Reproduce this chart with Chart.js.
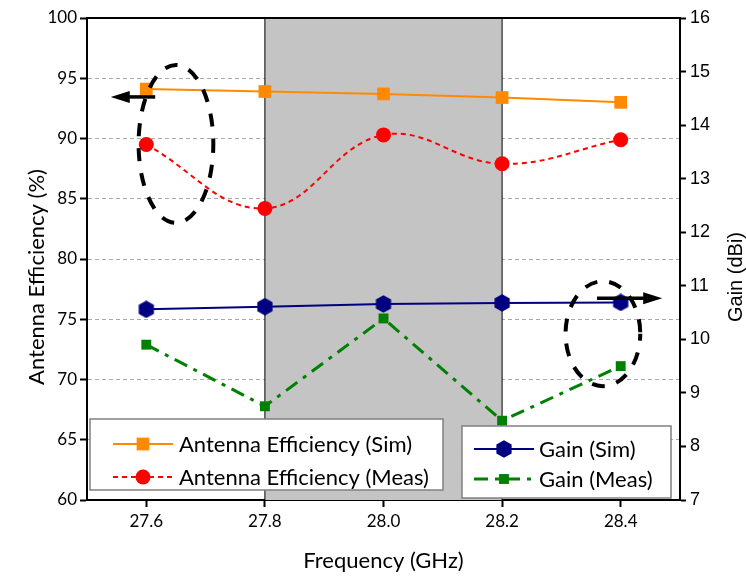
<!DOCTYPE html>
<html>
<head>
<meta charset="utf-8">
<script src="https://cdn.jsdelivr.net/npm/chart.js@4.4.1/dist/chart.umd.min.js"></script>
<style>
  html, body { margin: 0; padding: 0; background: #fff; }
  canvas { display: block; }
</style>
</head>
<body>
<canvas id="myChart" width="746" height="576"></canvas>
<script>
// data
const freq = [27.6, 27.8, 28.0, 28.2, 28.4];
const effSim = [94.1, 93.9, 93.7, 93.4, 93.0];
const effMeas = [89.5, 84.2, 90.3, 87.9, 89.9];
const gainSim = [10.56, 10.61, 10.66, 10.68, 10.69];
const gainMeas = [9.9, 8.75, 10.39, 8.48, 9.5];

const freqTicks = [27.6, 27.8, 28.0, 28.2, 28.4];
const effTicks = [60, 65, 70, 75, 80, 85, 90, 95, 100];
const gainTicks = [7, 8, 9, 10, 11, 12, 13, 14, 15, 16];
const band = [27.8, 28.2];

const calibriLike = 'Lato, "Open Sans", sans-serif';
const arialLike = '"Liberation Sans", Arial, sans-serif';

const pts = ys => freq.map((f, i) => ({ x: f, y: ys[i] }));

// hexagon marker for gain (sim)
const hex = document.createElement('canvas');
hex.width = 18; hex.height = 18;
(function () {
  const c = hex.getContext('2d');
  c.fillStyle = '#000080';
  c.beginPath();
  for (let k = 0; k < 6; k++) {
    const a = -Math.PI / 2 + k * Math.PI / 3;
    const px = 9 + 8.8 * Math.cos(a), py = 9 + 8.8 * Math.sin(a);
    k ? c.lineTo(px, py) : c.moveTo(px, py);
  }
  c.closePath();
  c.fill();
})();

function arrow(ctx, x0, y0, x1, y1) {
  const ang = Math.atan2(y1 - y0, x1 - x0), len = 19, hw = 6;
  ctx.beginPath();
  ctx.moveTo(x0, y0);
  ctx.lineTo(x1 - Math.cos(ang) * (len - 2), y1 - Math.sin(ang) * (len - 2));
  ctx.stroke();
  ctx.beginPath();
  ctx.moveTo(x1, y1);
  ctx.lineTo(x1 - Math.cos(ang) * len - Math.sin(ang) * hw, y1 - Math.sin(ang) * len + Math.cos(ang) * hw);
  ctx.lineTo(x1 - Math.cos(ang) * len + Math.sin(ang) * hw, y1 - Math.sin(ang) * len - Math.cos(ang) * hw);
  ctx.closePath();
  ctx.fill();
}

function legendItem(ctx, ds, x0, x1, y, tx) {
  ctx.save();
  ctx.strokeStyle = ds.borderColor;
  ctx.lineWidth = ds.borderWidth;
  ctx.setLineDash(ds.borderDash || []);
  ctx.beginPath(); ctx.moveTo(x0, y); ctx.lineTo(x1, y); ctx.stroke();
  ctx.setLineDash([]);
  ctx.fillStyle = ds.backgroundColor;
  Chart.helpers.drawPoint(ctx, { pointStyle: ds.pointStyle, radius: ds.pointRadius, borderWidth: 0, rotation: 0 }, (x0 + x1) / 2, y);
  ctx.fillStyle = '#000';
  ctx.font = '22px ' + calibriLike;
  ctx.textBaseline = 'middle';
  ctx.textAlign = 'left';
  ctx.fillText(ds.label, tx, y + 1);
  ctx.restore();
}

const decor = {
  id: 'decor',
  beforeDatasetsDraw(chart) {
    const { ctx, chartArea: a, scales: { x } } = chart;
    const x0 = x.getPixelForValue(band[0]), x1 = x.getPixelForValue(band[1]);
    ctx.save();
    ctx.fillStyle = '#c4c4c4';
    ctx.fillRect(x0, a.top, x1 - x0, a.bottom - a.top);
    ctx.strokeStyle = '#000';
    ctx.lineWidth = 1;
    ctx.beginPath();
    ctx.moveTo(x0, a.top); ctx.lineTo(x0, a.bottom);
    ctx.moveTo(x1, a.top); ctx.lineTo(x1, a.bottom);
    ctx.stroke();
    ctx.restore();
  },
  afterDatasetsDraw(chart) {
    const { ctx, chartArea: a, scales: { x, y } } = chart;
    ctx.save();
    // dashed ellipses
    ctx.strokeStyle = '#000';
    ctx.fillStyle = '#000';
    ctx.lineWidth = 4;
    ctx.setLineDash([13, 12]);
    const ell = (cx, cy, dx, dy, off) => {
      const px = x.getPixelForValue(cx), py = y.getPixelForValue(cy);
      const rx = x.getPixelForValue(cx + dx) - px, ry = py - y.getPixelForValue(cy + dy);
      ctx.lineDashOffset = off;
      ctx.beginPath(); ctx.ellipse(px, py, rx, ry, 0, 0, Math.PI * 2); ctx.stroke();
    };
    ell(27.65, 89.55, 0.063, 6.55, 4);
    ell(28.37, 73.8, 0.063, 4.35, 6);
    ctx.setLineDash([]);
    ctx.lineWidth = 3.5;
    arrow(ctx, x.getPixelForValue(27.615), y.getPixelForValue(93.45), x.getPixelForValue(27.54), y.getPixelForValue(93.45));
    arrow(ctx, x.getPixelForValue(28.36), y.getPixelForValue(76.75), x.getPixelForValue(28.47), y.getPixelForValue(76.75));
    ctx.restore();

    // legend boxes
    const ds = chart.data.datasets;
    ctx.save();
    ctx.fillStyle = '#fff';
    ctx.strokeStyle = '#808080';
    ctx.lineWidth = 1.5;
    ctx.fillRect(a.left + 3, a.bottom - 81, 353, 71);
    ctx.strokeRect(a.left + 3, a.bottom - 81, 353, 71);
    ctx.fillRect(a.left + 375, a.bottom - 74, 209, 72);
    ctx.strokeRect(a.left + 375, a.bottom - 74, 209, 72);
    ctx.restore();
    legendItem(ctx, ds[0], a.left + 26, a.left + 86, a.bottom - 56, a.left + 92);
    legendItem(ctx, ds[1], a.left + 26, a.left + 86, a.bottom - 23, a.left + 92);
    legendItem(ctx, ds[2], a.left + 387, a.left + 447, a.bottom - 51, a.left + 452);
    legendItem(ctx, ds[3], a.left + 387, a.left + 447, a.bottom - 21, a.left + 452);
  },
  afterDraw(chart) {
    const { ctx, chartArea: a } = chart;
    ctx.save();
    ctx.strokeStyle = '#000';
    ctx.lineWidth = 2;
    ctx.beginPath(); ctx.moveTo(a.left - 1, a.top); ctx.lineTo(a.right + 1, a.top); ctx.stroke();

    ctx.fillStyle = '#000';
    ctx.textAlign = 'center';
    ctx.textBaseline = 'alphabetic';
    const midY = (a.top + a.bottom) / 2 + 18;
    ctx.font = '22px ' + calibriLike;
    ctx.fillText('Frequency (GHz)', (a.left + a.right) / 2, 568);

    ctx.save();
    ctx.translate(44, midY);
    ctx.rotate(-Math.PI / 2);
    ctx.fillText('Antenna Efficiency (%)', 0, 0);
    ctx.restore();

    ctx.save();
    ctx.font = '20px ' + arialLike;
    ctx.translate(742, midY);
    ctx.rotate(-Math.PI / 2);
    ctx.fillText('Gain (dBi)', 0, 0);
    ctx.restore();
    ctx.restore();
  }
};

const ctx = document.getElementById('myChart').getContext('2d');
const chart = new Chart(ctx, {
  type: 'line',
  data: {
    datasets: [
      {
        label: 'Antenna Efficiency (Sim)',
        data: pts(effSim),
        yAxisID: 'y',
        borderColor: '#ff8a00',
        backgroundColor: '#ff8a00',
        borderWidth: 2,
        pointStyle: 'rect',
        pointRadius: 9,
        pointBorderWidth: 0,
        tension: 0
      },
      {
        label: 'Antenna Efficiency (Meas)',
        data: pts(effMeas),
        yAxisID: 'y',
        borderColor: '#ff0000',
        backgroundColor: '#ff0000',
        borderWidth: 2,
        borderDash: [5, 4],
        pointStyle: 'circle',
        pointRadius: 7.5,
        pointBorderWidth: 0,
        tension: 0.4
      },
      {
        label: 'Gain (Sim)',
        data: pts(gainSim),
        yAxisID: 'y2',
        borderColor: '#000080',
        backgroundColor: '#000080',
        borderWidth: 2,
        pointStyle: hex,
        pointRadius: 9,
        pointBorderWidth: 0,
        tension: 0
      },
      {
        label: 'Gain (Meas)',
        data: pts(gainMeas),
        yAxisID: 'y2',
        borderColor: '#008000',
        backgroundColor: '#008000',
        borderWidth: 3,
        borderDash: [14, 7, 4, 7],
        pointStyle: 'rect',
        pointRadius: 7,
        pointBorderWidth: 0,
        tension: 0
      }
    ]
  },
  options: {
    responsive: false,
    animation: false,
    devicePixelRatio: 1,
    layout: { padding: { top: 18, left: 0, right: 0, bottom: 0 } },
    plugins: { legend: { display: false }, tooltip: { enabled: false } },
    scales: {
      x: {
        type: 'linear',
        min: 27.5,
        max: 28.5,
        afterBuildTicks: s => { s.ticks = freqTicks.map(v => ({ value: v })); },
        afterFit: s => { s.height = 76; },
        ticks: {
          callback: v => v.toFixed(1),
          color: '#000',
          font: { family: calibriLike, size: 17 },
          padding: 4,
          maxRotation: 0
        },
        grid: { drawOnChartArea: false, tickLength: 7, tickColor: '#000', tickWidth: 2 },
        border: { color: '#000', width: 2 }
      },
      y: {
        position: 'left',
        min: 60,
        max: 100,
        afterBuildTicks: s => { s.ticks = effTicks.map(v => ({ value: v })); },
        afterFit: s => { s.width = 87; },
        ticks: {
          color: '#000',
          font: { family: calibriLike, size: 17 },
          padding: 3
        },
        grid: { color: '#aaaaaa', lineWidth: 1, tickLength: 7, tickColor: '#000', tickWidth: 2 },
        border: { color: '#000', width: 2, dash: [4, 3] }
      },
      y2: {
        position: 'right',
        min: 7,
        max: 16,
        afterBuildTicks: s => { s.ticks = gainTicks.map(v => ({ value: v })); },
        afterFit: s => { s.width = 66; },
        ticks: {
          color: '#000',
          font: { family: arialLike, size: 18 },
          padding: 4
        },
        grid: { drawOnChartArea: false, tickLength: 6, tickColor: '#000', tickWidth: 2 },
        border: { color: '#000', width: 2 }
      }
    }
  },
  plugins: [decor]
});
</script>
</body>
</html>
